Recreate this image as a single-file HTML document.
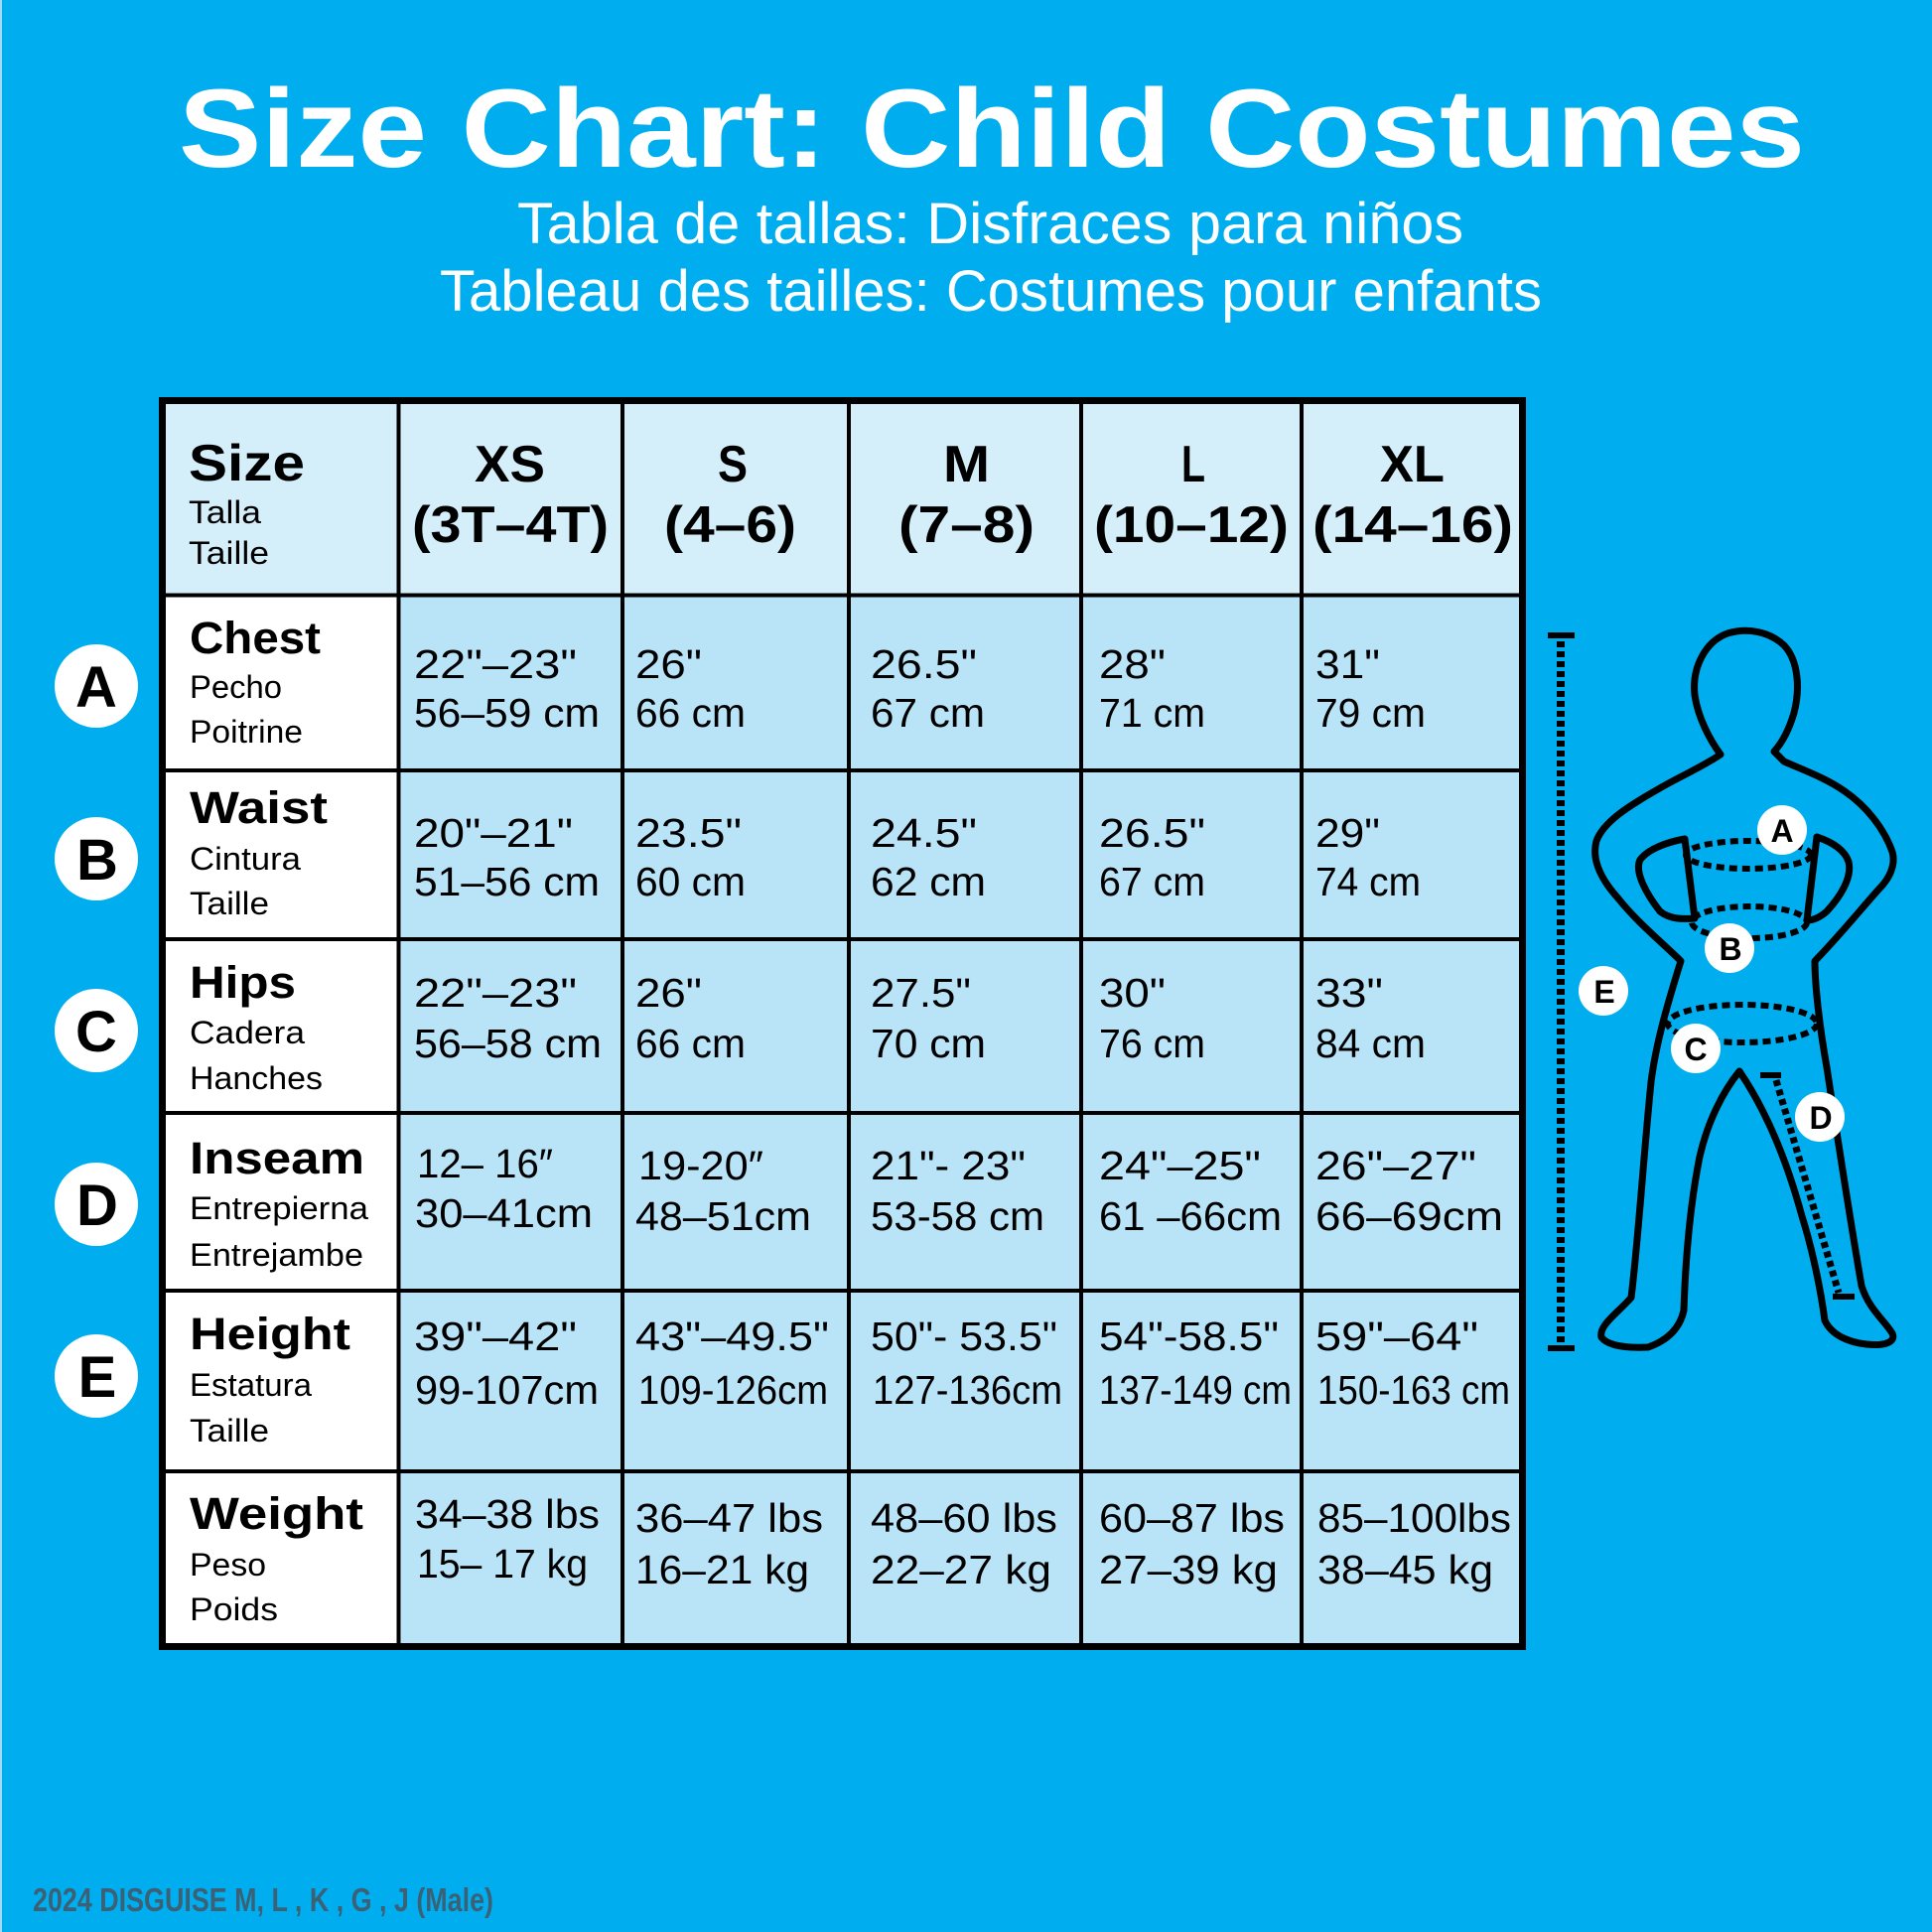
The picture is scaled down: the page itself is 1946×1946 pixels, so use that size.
<!DOCTYPE html>
<html><head><meta charset="utf-8"><style>
html,body{margin:0;padding:0;background:#00aeef;}
svg{display:block;}
text{font-family:"Liberation Sans",Arial,sans-serif;}
.b{font-weight:bold;}
.lab{font-size:45px;font-weight:bold;fill:#000;}
.sub{font-size:32px;fill:#000;}
.v{font-size:41px;fill:#000;}
.h{font-size:52px;font-weight:bold;fill:#000;}
</style></head><body>
<svg width="1946" height="1946" viewBox="0 0 1946 1946" xmlns="http://www.w3.org/2000/svg">
<rect x="0" y="0" width="1946" height="1946" fill="#00aeef"/>
<rect x="0" y="0" width="2" height="1946" fill="#9fdcf6"/>

<!-- Titles -->
<text x="180" y="168" font-size="112" font-weight="bold" fill="#fff" textLength="1638" lengthAdjust="spacingAndGlyphs">Size Chart: Child Costumes</text>
<text x="521" y="245" font-size="58" fill="#fff" textLength="953" lengthAdjust="spacingAndGlyphs">Tabla de tallas: Disfraces para niños</text>
<text x="443" y="313" font-size="58" fill="#fff" textLength="1110" lengthAdjust="spacingAndGlyphs">Tableau des tailles: Costumes pour enfants</text>

<!-- Table fills -->
<rect x="160" y="400" width="1377" height="200" fill="#d4eefa"/>
<rect x="160" y="599" width="242" height="1063" fill="#ffffff"/>
<rect x="401" y="599" width="1136" height="1063" fill="#b9e3f7"/>

<!-- Grid lines -->
<g stroke="#000" stroke-width="4" fill="none">
<line x1="401.5" y1="400" x2="401.5" y2="1662"/>
<line x1="627" y1="400" x2="627" y2="1662"/>
<line x1="855" y1="400" x2="855" y2="1662"/>
<line x1="1089" y1="400" x2="1089" y2="1662"/>
<line x1="1311" y1="400" x2="1311" y2="1662"/>
<line x1="160" y1="599.5" x2="1537" y2="599.5"/>
<line x1="160" y1="776" x2="1537" y2="776"/>
<line x1="160" y1="946" x2="1537" y2="946"/>
<line x1="160" y1="1121" x2="1537" y2="1121"/>
<line x1="160" y1="1300" x2="1537" y2="1300"/>
<line x1="160" y1="1482" x2="1537" y2="1482"/>
</g>
<rect x="163.5" y="403.5" width="1370" height="1255" fill="none" stroke="#000" stroke-width="7"/>

<!-- Header -->
<text class="h" x="190" y="484" textLength="117" lengthAdjust="spacingAndGlyphs">Size</text>
<text class="sub" x="190" y="527" textLength="73" lengthAdjust="spacingAndGlyphs">Talla</text>
<text class="sub" x="190" y="568" textLength="81" lengthAdjust="spacingAndGlyphs">Taille</text>

<text class="h" x="478" y="485" textLength="71" lengthAdjust="spacingAndGlyphs">XS</text>
<text class="h" x="415" y="546" textLength="198" lengthAdjust="spacingAndGlyphs">(3T–4T)</text>
<text class="h" x="723" y="485" textLength="30" lengthAdjust="spacingAndGlyphs">S</text>
<text class="h" x="669" y="546" textLength="133" lengthAdjust="spacingAndGlyphs">(4–6)</text>
<text class="h" x="950" y="485" textLength="47" lengthAdjust="spacingAndGlyphs">M</text>
<text class="h" x="905" y="546" textLength="137" lengthAdjust="spacingAndGlyphs">(7–8)</text>
<text class="h" x="1190" y="485" textLength="24" lengthAdjust="spacingAndGlyphs">L</text>
<text class="h" x="1102" y="546" textLength="196" lengthAdjust="spacingAndGlyphs">(10–12)</text>
<text class="h" x="1390" y="485" textLength="65" lengthAdjust="spacingAndGlyphs">XL</text>
<text class="h" x="1322" y="546" textLength="202" lengthAdjust="spacingAndGlyphs">(14–16)</text>

<!-- Row labels -->
<text class="lab" x="191" y="658" textLength="132" lengthAdjust="spacingAndGlyphs">Chest</text>
<text class="sub" x="191" y="703" textLength="93" lengthAdjust="spacingAndGlyphs">Pecho</text>
<text class="sub" x="191" y="748" textLength="114" lengthAdjust="spacingAndGlyphs">Poitrine</text>

<text class="lab" x="191" y="829" textLength="139" lengthAdjust="spacingAndGlyphs">Waist</text>
<text class="sub" x="191" y="876" textLength="112" lengthAdjust="spacingAndGlyphs">Cintura</text>
<text class="sub" x="191" y="921" textLength="80" lengthAdjust="spacingAndGlyphs">Taille</text>

<text class="lab" x="191" y="1005" textLength="107" lengthAdjust="spacingAndGlyphs">Hips</text>
<text class="sub" x="191" y="1051" textLength="116" lengthAdjust="spacingAndGlyphs">Cadera</text>
<text class="sub" x="191" y="1097" textLength="134" lengthAdjust="spacingAndGlyphs">Hanches</text>

<text class="lab" x="191" y="1182" textLength="176" lengthAdjust="spacingAndGlyphs">Inseam</text>
<text class="sub" x="191" y="1228" textLength="180" lengthAdjust="spacingAndGlyphs">Entrepierna</text>
<text class="sub" x="191" y="1275" textLength="175" lengthAdjust="spacingAndGlyphs">Entrejambe</text>

<text class="lab" x="191" y="1359" textLength="162" lengthAdjust="spacingAndGlyphs">Height</text>
<text class="sub" x="191" y="1406" textLength="123" lengthAdjust="spacingAndGlyphs">Estatura</text>
<text class="sub" x="191" y="1452" textLength="80" lengthAdjust="spacingAndGlyphs">Taille</text>

<text class="lab" x="191" y="1540" textLength="175" lengthAdjust="spacingAndGlyphs">Weight</text>
<text class="sub" x="191" y="1587" textLength="77" lengthAdjust="spacingAndGlyphs">Peso</text>
<text class="sub" x="191" y="1632" textLength="89" lengthAdjust="spacingAndGlyphs">Poids</text>

<!-- Values Row A -->
<text class="v" x="417" y="683" textLength="164" lengthAdjust="spacingAndGlyphs">22"–23"</text>
<text class="v" x="417" y="732" textLength="187" lengthAdjust="spacingAndGlyphs">56–59 cm</text>
<text class="v" x="640" y="683" textLength="67" lengthAdjust="spacingAndGlyphs">26"</text>
<text class="v" x="640" y="732" textLength="111" lengthAdjust="spacingAndGlyphs">66 cm</text>
<text class="v" x="877" y="683" textLength="107" lengthAdjust="spacingAndGlyphs">26.5"</text>
<text class="v" x="877" y="732" textLength="115" lengthAdjust="spacingAndGlyphs">67  cm</text>
<text class="v" x="1107" y="683" textLength="67" lengthAdjust="spacingAndGlyphs">28"</text>
<text class="v" x="1107" y="732" textLength="107" lengthAdjust="spacingAndGlyphs">71 cm</text>
<text class="v" x="1325" y="683" textLength="65" lengthAdjust="spacingAndGlyphs">31"</text>
<text class="v" x="1325" y="732" textLength="111" lengthAdjust="spacingAndGlyphs">79 cm</text>

<!-- Row B -->
<text class="v" x="417" y="853" textLength="160" lengthAdjust="spacingAndGlyphs">20"–21"</text>
<text class="v" x="417" y="902" textLength="187" lengthAdjust="spacingAndGlyphs">51–56 cm</text>
<text class="v" x="640" y="853" textLength="107" lengthAdjust="spacingAndGlyphs">23.5"</text>
<text class="v" x="640" y="902" textLength="111" lengthAdjust="spacingAndGlyphs">60 cm</text>
<text class="v" x="877" y="853" textLength="107" lengthAdjust="spacingAndGlyphs">24.5"</text>
<text class="v" x="877" y="902" textLength="116" lengthAdjust="spacingAndGlyphs">62  cm</text>
<text class="v" x="1107" y="853" textLength="107" lengthAdjust="spacingAndGlyphs">26.5"</text>
<text class="v" x="1107" y="902" textLength="107" lengthAdjust="spacingAndGlyphs">67 cm</text>
<text class="v" x="1325" y="853" textLength="65" lengthAdjust="spacingAndGlyphs">29"</text>
<text class="v" x="1325" y="902" textLength="106" lengthAdjust="spacingAndGlyphs">74 cm</text>

<!-- Row C -->
<text class="v" x="417" y="1014" textLength="164" lengthAdjust="spacingAndGlyphs">22"–23"</text>
<text class="v" x="417" y="1065" textLength="189" lengthAdjust="spacingAndGlyphs">56–58 cm</text>
<text class="v" x="640" y="1014" textLength="67" lengthAdjust="spacingAndGlyphs">26"</text>
<text class="v" x="640" y="1065" textLength="111" lengthAdjust="spacingAndGlyphs">66 cm</text>
<text class="v" x="877" y="1014" textLength="101" lengthAdjust="spacingAndGlyphs">27.5"</text>
<text class="v" x="877" y="1065" textLength="116" lengthAdjust="spacingAndGlyphs">70 cm</text>
<text class="v" x="1107" y="1014" textLength="67" lengthAdjust="spacingAndGlyphs">30"</text>
<text class="v" x="1107" y="1065" textLength="107" lengthAdjust="spacingAndGlyphs">76 cm</text>
<text class="v" x="1325" y="1014" textLength="68" lengthAdjust="spacingAndGlyphs">33"</text>
<text class="v" x="1325" y="1065" textLength="111" lengthAdjust="spacingAndGlyphs">84 cm</text>

<!-- Row D -->
<text class="v" x="420" y="1186" textLength="137" lengthAdjust="spacingAndGlyphs">12– 16″</text>
<text class="v" x="418" y="1236" textLength="179" lengthAdjust="spacingAndGlyphs">30–41cm</text>
<text class="v" x="643" y="1188" textLength="126" lengthAdjust="spacingAndGlyphs">19-20″</text>
<text class="v" x="640" y="1239" textLength="177" lengthAdjust="spacingAndGlyphs">48–51cm</text>
<text class="v" x="877" y="1188" textLength="156" lengthAdjust="spacingAndGlyphs">21"- 23"</text>
<text class="v" x="877" y="1239" textLength="175" lengthAdjust="spacingAndGlyphs">53-58  cm</text>
<text class="v" x="1107" y="1188" textLength="163" lengthAdjust="spacingAndGlyphs">24"–25"</text>
<text class="v" x="1107" y="1239" textLength="184" lengthAdjust="spacingAndGlyphs">61 –66cm</text>
<text class="v" x="1325" y="1188" textLength="162" lengthAdjust="spacingAndGlyphs">26"–27"</text>
<text class="v" x="1325" y="1239" textLength="189" lengthAdjust="spacingAndGlyphs">66–69cm</text>

<!-- Row E -->
<text class="v" x="417" y="1360" textLength="164" lengthAdjust="spacingAndGlyphs">39"–42"</text>
<text class="v" x="418" y="1414" textLength="185" lengthAdjust="spacingAndGlyphs">99-107cm</text>
<text class="v" x="640" y="1360" textLength="195" lengthAdjust="spacingAndGlyphs">43"–49.5"</text>
<text class="v" x="643" y="1414" textLength="191" lengthAdjust="spacingAndGlyphs">109-126cm</text>
<text class="v" x="877" y="1360" textLength="188" lengthAdjust="spacingAndGlyphs">50"- 53.5"</text>
<text class="v" x="879" y="1414" textLength="191" lengthAdjust="spacingAndGlyphs">127-136cm</text>
<text class="v" x="1107" y="1360" textLength="181" lengthAdjust="spacingAndGlyphs">54"-58.5"</text>
<text class="v" x="1107" y="1414" textLength="194" lengthAdjust="spacingAndGlyphs">137-149 cm</text>
<text class="v" x="1325" y="1360" textLength="164" lengthAdjust="spacingAndGlyphs">59"–64"</text>
<text class="v" x="1327" y="1414" textLength="194" lengthAdjust="spacingAndGlyphs">150-163 cm</text>

<!-- Row F -->
<text class="v" x="418" y="1539" textLength="186" lengthAdjust="spacingAndGlyphs">34–38 lbs</text>
<text class="v" x="420" y="1589" textLength="172" lengthAdjust="spacingAndGlyphs">15– 17 kg</text>
<text class="v" x="640" y="1543" textLength="189" lengthAdjust="spacingAndGlyphs">36–47 lbs</text>
<text class="v" x="640" y="1595" textLength="175" lengthAdjust="spacingAndGlyphs">16–21 kg</text>
<text class="v" x="877" y="1543" textLength="188" lengthAdjust="spacingAndGlyphs">48–60 lbs</text>
<text class="v" x="877" y="1595" textLength="182" lengthAdjust="spacingAndGlyphs">22–27 kg</text>
<text class="v" x="1107" y="1543" textLength="187" lengthAdjust="spacingAndGlyphs">60–87 lbs</text>
<text class="v" x="1107" y="1595" textLength="180" lengthAdjust="spacingAndGlyphs">27–39 kg</text>
<text class="v" x="1327" y="1543" textLength="195" lengthAdjust="spacingAndGlyphs">85–100lbs</text>
<text class="v" x="1327" y="1595" textLength="177" lengthAdjust="spacingAndGlyphs">38–45 kg</text>

<!-- Left letter circles -->
<g>
<circle cx="97" cy="691" r="42" fill="#fff"/>
<circle cx="97" cy="865" r="42" fill="#fff"/>
<circle cx="97" cy="1038" r="42" fill="#fff"/>
<circle cx="97" cy="1213" r="42" fill="#fff"/>
<circle cx="97" cy="1386" r="42" fill="#fff"/>
</g>
<g font-size="58" font-weight="bold" fill="#000" text-anchor="middle">
<text x="97" y="712">A</text>
<text x="98" y="886">B</text>
<text x="97" y="1059">C</text>
<text x="98" y="1234">D</text>
<text x="98" y="1407">E</text>
</g>

<!-- Figure: height ruler -->
<g stroke="#000" fill="none">
<line x1="1572" y1="646" x2="1572" y2="1352" stroke-width="8" stroke-dasharray="6 4"/>
<line x1="1559" y1="640" x2="1586" y2="640" stroke-width="6"/>
<line x1="1559" y1="1358" x2="1586" y2="1358" stroke-width="6"/>
</g>

<!-- Figure outline -->
<g stroke="#000" stroke-width="7" fill="none" stroke-linejoin="round" stroke-linecap="round">
<path d="M1733,760 C1722,745 1710,722 1707,700 C1704,672 1718,646 1740,638 C1760,632 1782,636 1797,650 C1812,666 1813,695 1807,718 C1802,735 1795,748 1787,757
L1797,767 C1815,775 1840,784 1858,797 C1880,812 1898,835 1906,858 C1910,872 1902,886 1893,895 C1875,915 1855,940 1828,968
C1828,990 1832,1030 1840,1075 C1850,1140 1862,1220 1875,1295 C1882,1318 1898,1330 1906,1343 C1910,1352 1898,1356 1880,1354 C1862,1352 1845,1345 1838,1330 C1834,1300 1826,1260 1815,1225 C1800,1170 1780,1120 1752,1079
C1735,1100 1720,1130 1712,1165 C1703,1210 1698,1260 1696,1320 C1692,1338 1680,1350 1660,1357 C1640,1358 1620,1356 1613,1347 C1610,1335 1630,1322 1643,1307 C1650,1250 1655,1170 1663,1090 C1668,1050 1680,1010 1693,968
C1675,950 1650,930 1630,905 C1612,885 1603,865 1608,847 C1615,828 1640,812 1670,795 C1690,783 1712,774 1733,760 Z"/>
<path d="M1697,845 C1680,848 1660,855 1652,866 C1646,878 1658,900 1672,918 C1682,926 1695,926 1707,925 L1697,845 Z"/>
<path d="M1830,843 C1845,848 1858,856 1862,868 C1866,885 1852,905 1840,918 C1832,925 1825,927 1820,927 L1830,843 Z"/>
</g>

<!-- Dashed ellipses -->
<g stroke="#000" stroke-width="6" fill="none" stroke-dasharray="8 5">
<ellipse cx="1761" cy="861" rx="63" ry="14"/>
<ellipse cx="1762" cy="929" rx="58" ry="16"/>
<ellipse cx="1755" cy="1031" rx="75" ry="19"/>
<line x1="1789" y1="1088" x2="1852" y2="1302" stroke-width="7" stroke-dasharray="6 4"/>
</g>
<g stroke="#000" stroke-width="6">
<line x1="1773" y1="1083" x2="1794" y2="1083"/>
<line x1="1846" y1="1306" x2="1868" y2="1306"/>
</g>

<!-- Figure letter circles -->
<g fill="#fff">
<circle cx="1795" cy="836" r="25"/>
<circle cx="1742" cy="955" r="25"/>
<circle cx="1708" cy="1056" r="25"/>
<circle cx="1833" cy="1125" r="25"/>
<circle cx="1615" cy="998" r="25"/>
</g>
<g font-size="32" font-weight="bold" fill="#000" text-anchor="middle">
<text x="1795" y="848">A</text>
<text x="1743" y="967">B</text>
<text x="1708" y="1068">C</text>
<text x="1834" y="1137">D</text>
<text x="1616" y="1010">E</text>
</g>

<!-- Footer -->
<text x="33" y="1925" font-size="33" font-weight="bold" fill="#3b6176" textLength="464" lengthAdjust="spacingAndGlyphs">2024 DISGUISE M, L , K , G , J  (Male)</text>
</svg>
</body></html>
